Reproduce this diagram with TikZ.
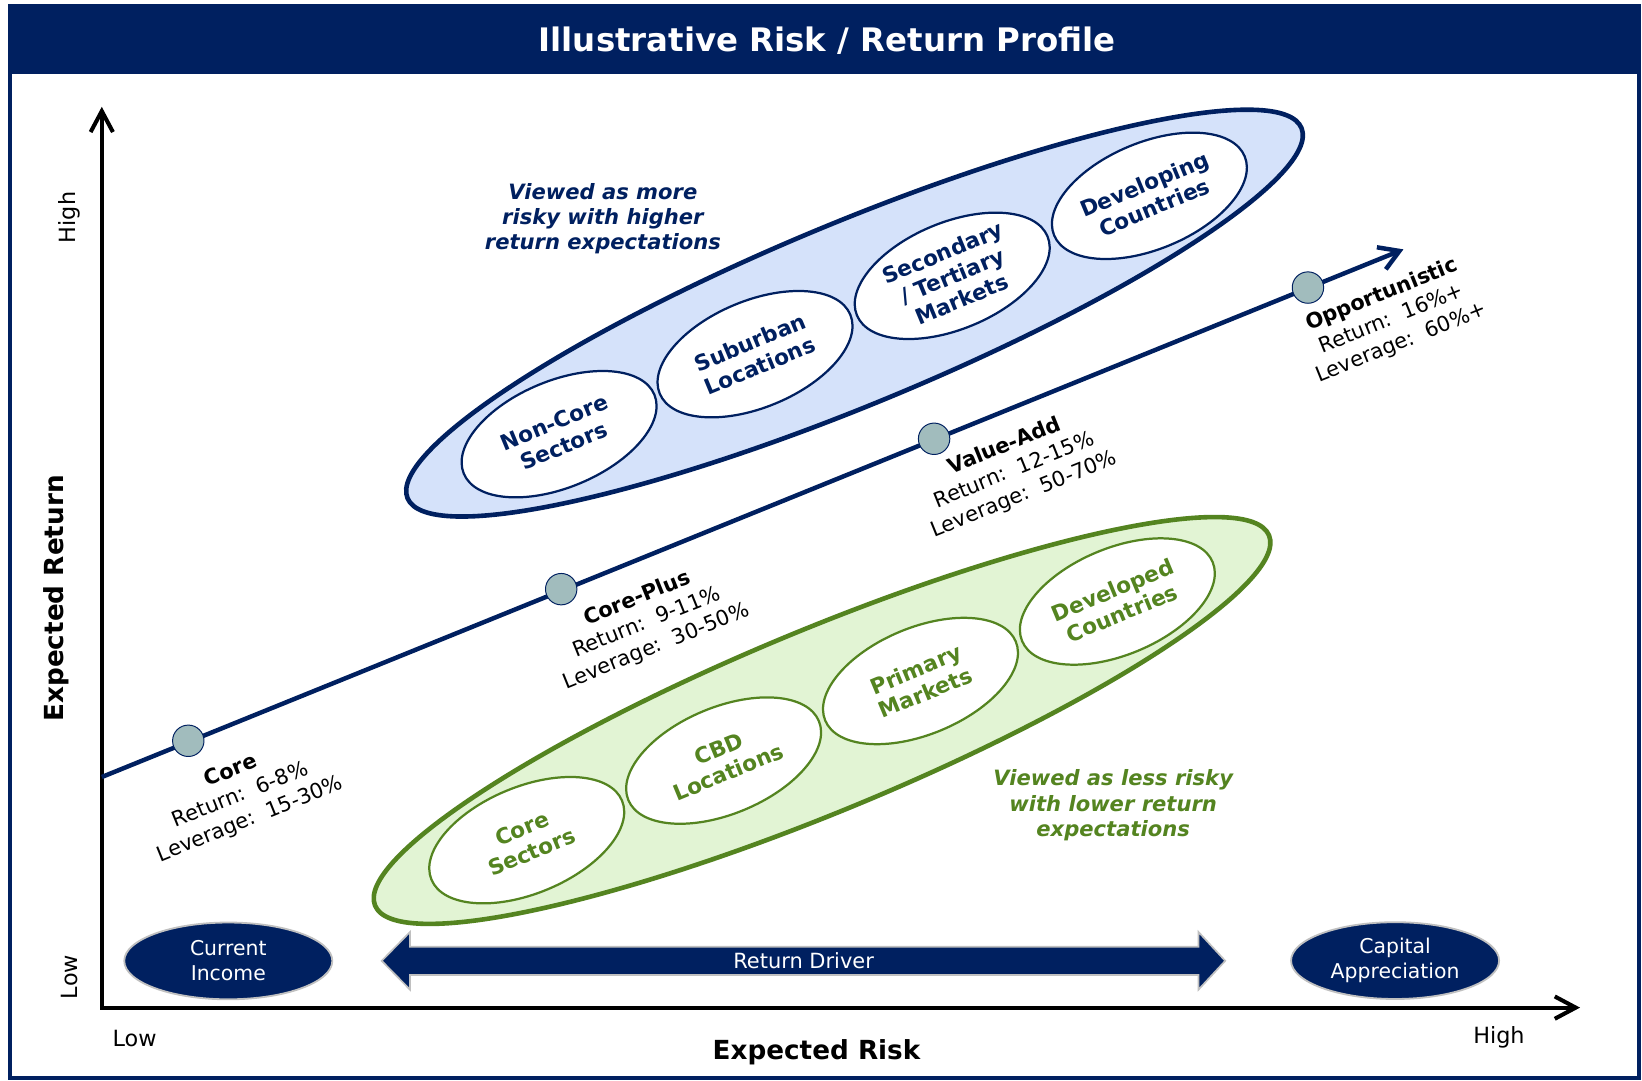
\documentclass[tikz,border=0pt]{standalone}
\usepackage{fontspec}
\setmainfont{DejaVu Sans}
\usetikzlibrary{arrows.meta,shapes.geometric}
\definecolor{navy}{RGB}{0,32,96}
\definecolor{bluefill}{RGB}{213,226,250}
\definecolor{greenline}{RGB}{84,132,32}
\definecolor{greenfill}{RGB}{226,244,212}
\definecolor{dotfill}{RGB}{161,188,189}
\definecolor{rimgray}{RGB}{192,192,192}
\newcommand\myfs[2]{\fontsize{#1}{#2}\selectfont}
\begin{document}
\begin{tikzpicture}[x=0.75pt,y=-0.75pt,
  bigell/.style={ellipse, minimum width=693pt, minimum height=130.5pt, rotate=22.5, line width=3.3pt, inner sep=0pt},
  smallell/.style={ellipse, minimum width=147.75pt, minimum height=76.5pt, rotate=22.5, line width=1.6pt, fill=white, inner sep=0pt, align=center, font=\myfs{15.5}{18}\bfseries},
  blueoval/.style={smallell, draw=navy, text=navy},
  greenoval/.style={smallell, draw=greenline, text=greenline},
  dotnode/.style={circle, minimum size=22.5pt, inner sep=0pt, fill=dotfill, draw=navy, line width=0.7pt},
  steplabel/.style={rotate=22, align=center, font=\myfs{15}{18.6}, inner sep=0pt},
  botoval/.style={ellipse, minimum width=149pt, minimum height=55pt, inner sep=0pt, fill=navy, draw=rimgray, line width=1.3pt, text=white, align=center, font=\myfs{14.6}{18}},
  notetext/.style={align=center, font=\myfs{15.1}{18}\bfseries\itshape, inner sep=0pt},
  axislabel/.style={font=\myfs{16}{19}, inner sep=0pt},
  axistitle/.style={font=\myfs{18.8}{22}\bfseries, inner sep=0pt},
  axisline/.style={line width=2.9pt, line join=miter, {Straight Barb[length=15pt,width=16pt]}-{Straight Barb[length=15pt,width=16pt]}}
]
\useasboundingbox (0,0) rectangle (1568,1032);
\fill[white] (0,0) rectangle (1568,1032);

% frame and title
\fill[navy] (9.5,5) rectangle (1565,71);
\draw[navy, line width=3.2pt] (9.5,6) rectangle (1565,1029.5);
\node[anchor=base, text=white, font=\myfs{23.2}{28}\bfseries, inner sep=0pt] (title) at (789.9,49.4) {Illustrative Risk / Return Profile};

% big ellipses
\node[bigell, fill=bluefill, draw=navy] (bigblue) at (816,299) {};
\node[bigell, fill=greenfill, draw=greenline] (biggreen) at (785,688) {};

% inner ovals (blue)
\node[blueoval] (noncore) at (533.9,414.6) {Non-Core\\Sectors};
\node[blueoval] (suburban) at (721,338.2) {Suburban\\Locations};
\node[blueoval] (secondary) at (909.3,263.4) {Secondary\\/ Tertiary\\Markets};
\node[blueoval] (developing) at (1097.6,187) {Developing\\Countries};

% inner ovals (green)
\node[greenoval] (coresec) at (503,802.3) {Core\\Sectors};
\node[greenoval] (cbd) at (691,726.3) {CBD\\Locations};
\node[greenoval] (primary) at (879,650.3) {Primary\\Markets};
\node[greenoval] (developed) at (1067,574.4) {Developed\\Countries};

% notes
\node[notetext, text=navy] (moretext) at (575.7,209) {Viewed as more\\risky with higher\\return expectations};
\node[notetext, text=greenline] (lesstext) at (1063,769) {Viewed as less risky\\with lower return\\expectations};

% axes
\coordinate (O) at (97.2,962.2);
\coordinate (ytip) at (97.2,102);
\coordinate (xtip) at (1508.8,962.2);
\draw[axisline] (ytip) -- (O) -- (xtip);

% return line
\coordinate (rs) at (97.2,742);
\coordinate (re) at (1340.2,238.1);
\draw[navy, line width=3.2pt, -{Straight Barb[length=14pt,width=17pt]}] (rs) -- (re);

% dots
\node[dotnode] (dcore) at (179.8,707.4) {};
\node[dotnode] (dcoreplus) at (535.9,562.6) {};
\node[dotnode] (dvalue) at (892,419) {};
\node[dotnode] (dopp) at (1249,274.6) {};

% step labels
\node[steplabel] (lcore) at (229.8,759.8) {\textbf{Core}\\Return:\ \ 6-8\%\\Leverage:\ \ 15-30\%};
\node[steplabel] (lcoreplus) at (617.8,594.7) {\textbf{Core-Plus}\\Return:\ \ 9-11\%\\Leverage:\ \ 30-50\%};
\node[steplabel] (lvalue) at (968.7,449.5) {\textbf{Value-Add}\\Return:\ \ 12-15\%\\Leverage:\ \ 50-70\%};
\node[steplabel] (lopp) at (1329,304.6) {\textbf{Opportunistic}\\Return:\ \ 16\%+\\Leverage:\ \ 60\%+};

% bottom row
\node[botoval] (income) at (218,917.6) {Current\\Income};
\node[botoval] (capital) at (1332.2,917.3) {Capital\\Appreciation};
\fill[navy, draw=rimgray, line width=1.2pt] (364.5,917.5) -- (391.5,890) -- (391.5,904) -- (1144.5,904) -- (1144.5,890) -- (1170,917.5) -- (1144.5,945) -- (1144.5,931) -- (391.5,931) -- (391.5,945) -- cycle;
\node[text=white, font=\myfs{15}{18}, inner sep=0pt] (driver) at (767.4,917.5) {Return Driver};

% axis labels
\node[axislabel, rotate=90] (yhigh) at (66,207.7) {High};
\node[axislabel, rotate=90] (ylow) at (66,933) {Low};
\node[axistitle, rotate=90] (ylabel) at (54.1,571.4) {Expected Return};
\node[axislabel] (xlow) at (128.6,991.8) {Low};
\node[axislabel] (xhigh) at (1431.4,990.5) {High};
\node[axistitle, anchor=base] (xlabel) at (779.7,1011.6) {Expected Risk};
\end{tikzpicture}
\end{document}
